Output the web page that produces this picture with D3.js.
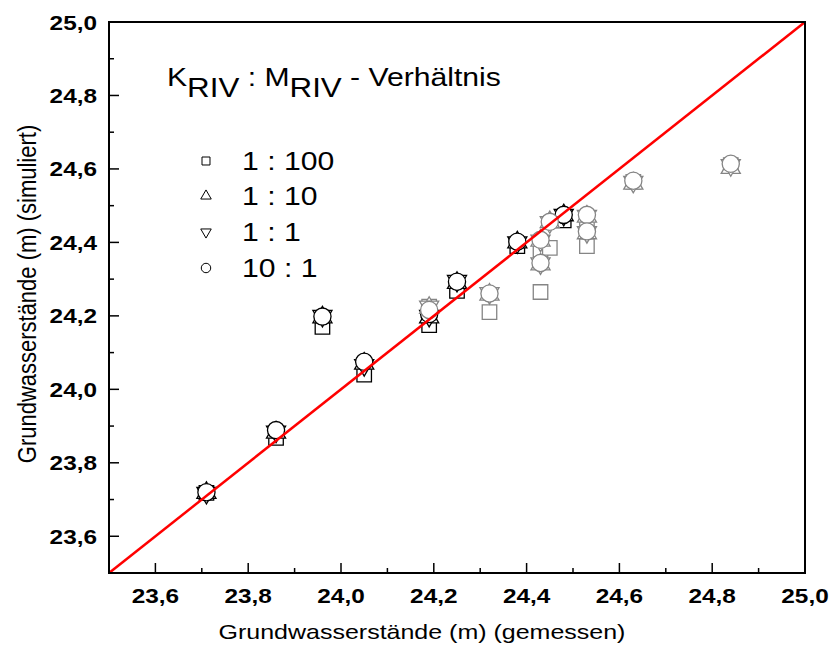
<!DOCTYPE html>
<html>
<head>
<meta charset="utf-8">
<script src="https://cdn.jsdelivr.net/npm/d3@7"></script>
<style>
  body { margin: 0; background: #fff; }
  text { font-family: "Liberation Sans", Arial, sans-serif; }
</style>
</head>
<body>
<svg id="chart" width="832" height="649"></svg>
<script>
// measured wells (x) and simulated heads for each K:M ratio
var wellX      = [23.71, 23.86, 23.96, 24.05, 24.19, 24.25, 24.38, 24.48,
                  24.19, 24.32, 24.43, 24.43, 24.45, 24.53, 24.53, 24.63, 24.84];
var wellGroup  = ["b", "b", "b", "b", "b", "b", "b", "b",
                  "g", "g", "g", "g", "g", "g", "g", "g", "g"];
var ratio1to100 = [23.718, 23.868, 24.17, 24.04, 24.175, 24.268, 24.39, 24.46,
                   24.225, 24.21, 24.38, 24.265, 24.385, 24.445, 24.39, 24.565, 24.61];
var ratio1to10  = [23.718, 23.882, 24.196, 24.07, 24.196, 24.29, 24.40, 24.474,
                   24.222, 24.258, 24.405, 24.34, 24.455, 24.47, 24.425, 24.56, 24.603];
var ratio1to1   = [23.718, 23.885, 24.20, 24.066, 24.20, 24.295, 24.40, 24.475,
                   24.225, 24.262, 24.405, 24.343, 24.455, 24.472, 24.428, 24.565, 24.61];
var ratio10to1  = [23.72, 23.889, 24.198, 24.075, 24.205, 24.293, 24.402, 24.475,
                   24.216, 24.261, 24.407, 24.344, 24.456, 24.475, 24.43, 24.568, 24.614];

var seriesNames = ["1 : 100", "1 : 10", "1 : 1", "10 : 1"];
var seriesShapes = ["square", "up", "down", "circle"];
var majorTicks = [23.6, 23.8, 24.0, 24.2, 24.4, 24.6, 24.8, 25.0];
var minorTicks = [23.5, 23.7, 23.9, 24.1, 24.3, 24.5, 24.7, 24.9];
var lineEnds = [23.5, 25.0];

var svg = d3.select("svg#chart");
var x = d3.scaleLinear().domain([23.5, 25.0]).range([109, 805]);
var y = d3.scaleLinear().domain([23.5, 25.0]).range([573, 22]);
var stretch = 1.16;
var fmt = function(d) { return d3.format(".1f")(d).replace(".", ","); };
var colors = { b: "#000", g: "#858585" };

function symbolPath(shape, big) {
    var k = big ? 1 : 0.55;
    if (shape == "square") return d3.symbol(d3.symbolSquare, 210 * k * k)();
    if (shape == "circle") return d3.symbol(d3.symbolCircle, 232 * k * k)();
    return d3.symbol(d3.symbolTriangle, 158 * k * k)();
}

var seriesData = [ratio1to100, ratio1to10, ratio1to1, ratio10to1];

// points: black wells first, gray wells on top
["b", "g"].forEach(function(grp) {
    var g = svg.append("g").attr("class", "points_" + grp);
    seriesData.forEach(function(vals, s) {
        var pts = wellX.map(function(wx, i) { return { x: wx, y: vals[i], grp: wellGroup[i] }; })
                       .filter(function(p) { return p.grp == grp; });
        g.selectAll("path.s" + s)
            .data(pts)
            .enter()
            .append("path")
            .attr("class", "s" + s)
            .attr("d", symbolPath(seriesShapes[s], true))
            .attr("transform", function(d) {
                return "translate(" + x(d.x) + "," + y(d.y) + ")" + (seriesShapes[s] == "down" ? " rotate(180)" : "");
            })
            .attr("fill", "#fff")
            .attr("stroke", colors[grp])
            .attr("stroke-width", 1.3);
    });
});

// 1:1 line
svg.append("line")
    .attr("x1", x(lineEnds[0])).attr("y1", y(lineEnds[0]))
    .attr("x2", x(lineEnds[1])).attr("y2", y(lineEnds[1]))
    .attr("stroke", "#ff0000")
    .attr("stroke-width", 2.5);

// frame
svg.append("rect")
    .attr("x", x(23.5)).attr("y", y(25.0))
    .attr("width", x(25.0) - x(23.5)).attr("height", y(23.5) - y(25.0))
    .attr("fill", "none").attr("stroke", "#000").attr("stroke-width", 2);

// ticks, inward
var ticks = svg.append("g").attr("stroke", "#000").attr("stroke-width", 1.5);
majorTicks.concat(minorTicks).forEach(function(t) {
    var len = majorTicks.indexOf(t) >= 0 ? 10 : 5;
    ticks.append("line").attr("x1", x(t)).attr("x2", x(t)).attr("y1", y(23.5)).attr("y2", y(23.5) - len);
    ticks.append("line").attr("x1", x(23.5)).attr("x2", x(23.5) + len).attr("y1", y(t)).attr("y2", y(t));
});

majorTicks.forEach(function(t) {
    svg.append("text")
        .attr("transform", "translate(" + x(t) + ",603) scale(" + stretch + ",1)")
        .attr("text-anchor", "middle")
        .attr("font-size", 21).attr("font-weight", "bold")
        .text(fmt(t));
    svg.append("text")
        .attr("transform", "translate(97," + (y(t) + 7.5) + ") scale(" + stretch + ",1)")
        .attr("text-anchor", "end")
        .attr("font-size", 21).attr("font-weight", "bold")
        .text(fmt(t));
});

// axis titles
svg.append("text")
    .attr("transform", "translate(422,639) scale(" + (stretch + 0.03) + ",1)")
    .attr("text-anchor", "middle")
    .attr("font-size", 21)
    .text("Grundwasserstände (m) (gemessen)");
svg.append("text")
    .attr("transform", "translate(36,294) rotate(-90) scale(1," + stretch + ")")
    .attr("text-anchor", "middle")
    .attr("font-size", 22)
    .text("Grundwasserstände (m) (simuliert)");

// legend
var title = svg.append("text")
    .attr("transform", "translate(167,86) scale(" + stretch + ",1)")
    .attr("font-size", 26);
title.append("tspan").text("K");
title.append("tspan").attr("dy", 11).attr("font-size", 27).text("RIV");
title.append("tspan").attr("dy", -11).text(" : M");
title.append("tspan").attr("dy", 11).attr("font-size", 27).text("RIV");
title.append("tspan").attr("dy", -11).text(" - Verhältnis");

var legendY = [170, 205, 241, 277];
seriesNames.forEach(function(name, s) {
    svg.append("path")
        .attr("d", symbolPath(seriesShapes[s], false))
        .attr("transform", "translate(206," + (legendY[s] - 9) + ")" + (seriesShapes[s] == "down" ? " rotate(180)" : ""))
        .attr("fill", "#fff").attr("stroke", "#000").attr("stroke-width", 1);
    svg.append("text")
        .attr("transform", "translate(242," + legendY[s] + ") scale(" + stretch + ",1)")
        .attr("font-size", 26)
        .text(name);
});
</script>
</body>
</html>
